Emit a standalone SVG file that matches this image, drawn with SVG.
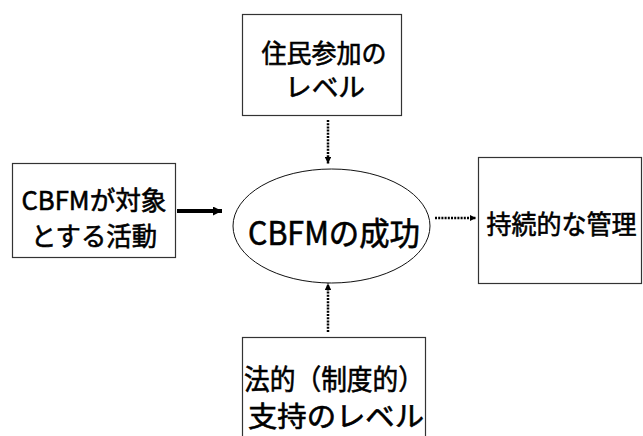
<svg xmlns="http://www.w3.org/2000/svg" width="643" height="436" viewBox="0 0 643 436">
<style>
.box{fill:#fff;stroke:#333;stroke-width:1.2}
.ell{fill:#fff;stroke:#111;stroke-width:1}
.t{font-family:"Noto Sans CJK JP","Noto Sans CJK SC",sans-serif;fill:#000;stroke:#000;stroke-width:0.6;text-anchor:middle;dominant-baseline:central}
.dot{stroke:#000;stroke-width:2.5;stroke-dasharray:2 1.2;fill:none}
.solid{stroke:#000;stroke-width:4;fill:none}
</style>
<defs>
<marker id="ah" viewBox="0 0 10 10" refX="10" refY="5" markerWidth="6.5" markerHeight="6.5" markerUnits="userSpaceOnUse" orient="auto"><path d="M0,0 L10,5 L0,10 Z" fill="#000"/></marker>
<marker id="ahb" viewBox="0 0 10 10" refX="10" refY="5" markerWidth="9" markerHeight="9" markerUnits="userSpaceOnUse" orient="auto"><path d="M0,0 L10,5 L0,10 Z" fill="#000"/></marker>
</defs>
<rect width="643" height="436" fill="#fff"/>
<g id="connectors">
<line class="dot" x1="328" y1="120" x2="328" y2="163.5" marker-end="url(#ah)"/>
<line class="solid" x1="177" y1="211" x2="222" y2="211" marker-end="url(#ahb)"/>
<line class="dot" x1="435" y1="218" x2="476" y2="218" marker-end="url(#ah)"/>
<line class="dot" x1="328" y1="332" x2="328" y2="283.5" marker-end="url(#ah)"/>
</g>
<g id="node-top">
<rect class="box" x="242.5" y="14.5" width="159" height="101"/>
<text class="t" font-size="26"><tspan x="324" y="51" textLength="125" lengthAdjust="spacingAndGlyphs">住民参加の</tspan><tspan x="325" y="85" textLength="80" lengthAdjust="spacingAndGlyphs">レベル</tspan></text>
</g>
<g id="node-left">
<rect class="box" x="12.5" y="163.5" width="163" height="94"/>
<text class="t" font-size="26"><tspan x="94" y="198" textLength="145" lengthAdjust="spacingAndGlyphs">CBFMが対象</tspan><tspan x="94" y="234" textLength="126" lengthAdjust="spacingAndGlyphs">とする活動</tspan></text>
</g>
<g id="node-center">
<ellipse class="ell" cx="331.5" cy="226" rx="98.5" ry="57"/>
<text class="t" x="334" y="231" font-size="32" textLength="172" lengthAdjust="spacingAndGlyphs">CBFMの成功</text>
</g>
<g id="node-right">
<rect class="box" x="478.5" y="157.5" width="163" height="126"/>
<text class="t" x="561.5" y="222" font-size="26" textLength="150" lengthAdjust="spacingAndGlyphs">持続的な管理</text>
</g>
<g id="node-bottom">
<rect class="box" x="242.5" y="337.5" width="183" height="110"/>
<text class="t" font-size="28"><tspan x="334" y="378" textLength="180" lengthAdjust="spacingAndGlyphs">法的（制度的）</tspan><tspan x="336" y="415" textLength="176" lengthAdjust="spacingAndGlyphs">支持のレベル</tspan></text>
</g>
</svg>
